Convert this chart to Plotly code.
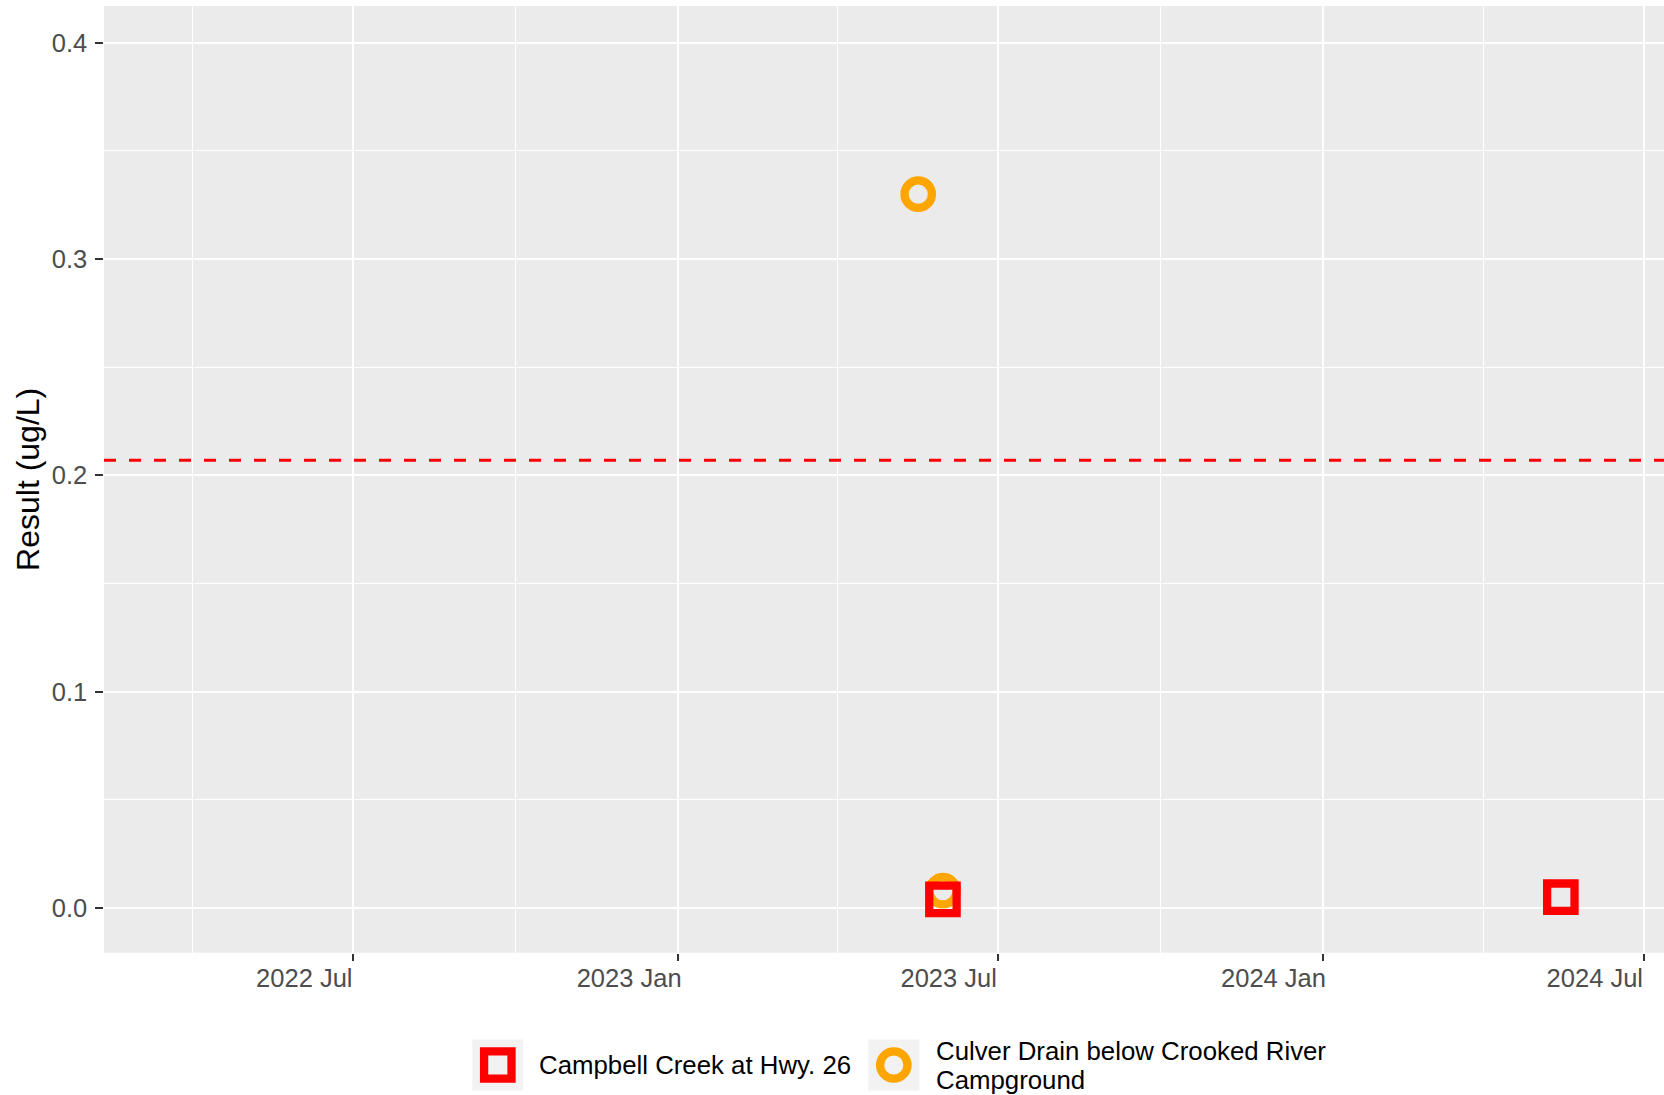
import plotly.graph_objects as go

# ---- data ----
campbell_name = "Campbell Creek at Hwy. 26"
campbell_dates = ["2023-05-31", "2024-05-15"]
campbell_vals = [0.004, 0.005]

culver_name = "Culver Drain below Crooked River Campground"
culver_dates = ["2023-05-17", "2023-05-31"]
culver_vals = [0.33, 0.008]

criterion = 0.207

x_tickvals = ["2022-07-01", "2023-01-01", "2023-07-01", "2024-01-01", "2024-07-01"]
x_ticktext = ["2022 Jul", "2023 Jan", "2023 Jul", "2024 Jan", "2024 Jul"]
x_minorvals = ["2022-04-01", "2022-10-01", "2023-04-01", "2023-10-01", "2024-04-01"]
y_tickvals = [0.0, 0.1, 0.2, 0.3, 0.4]
y_ticktext = ["0.0", "0.1", "0.2", "0.3", "0.4"]
y_minorvals = [0.05, 0.15, 0.25, 0.35]

RED = "#FF0000"
ORANGE = "#FFA500"
FONT = "Liberation Sans, Arial, sans-serif"

W, H = 1664, 1095
ML, MR, MT, MB = 104, 0, 6, 0
PH = H - MT - MB
panel_bottom_px = 952.7
ydom0 = (H - panel_bottom_px) / PH
MS, MLW = 27.4, 8.3

fig = go.Figure()

# panel background
fig.add_shape(type="rect", xref="x domain", yref="y domain", x0=0, x1=1, y0=0, y1=1,
              fillcolor="#EBEBEB", line=dict(width=0), layer="below")

fig.add_trace(go.Scatter(
    x=culver_dates, y=culver_vals, mode="markers", name=culver_name,
    marker=dict(symbol="circle-open", size=MS, color=ORANGE,
                line=dict(color=ORANGE, width=MLW)),
    showlegend=False, xaxis="x", yaxis="y"))
fig.add_trace(go.Scatter(
    x=campbell_dates, y=campbell_vals, mode="markers", name=campbell_name,
    marker=dict(symbol="square-open", size=MS, color=RED,
                line=dict(color=RED, width=MLW)),
    showlegend=False, xaxis="x", yaxis="y"))

# criterion line
fig.add_shape(type="line", xref="x domain", yref="y", x0=0, x1=1,
              y0=criterion, y1=criterion,
              line=dict(color=RED, width=2.9, dash="12px,13px"))

# ---- manual legend (overlay axes in window pixel coordinates) ----
legend_keys = [
    dict(cx=497.8, cy=1065, symbol="square-open", color=RED),
    dict(cx=893.8, cy=1065, symbol="circle-open", color=ORANGE),
]
for k in legend_keys:
    fig.add_shape(type="rect", xref="x2", yref="y2",
                  x0=k["cx"] - 25.5, x1=k["cx"] + 25.5,
                  y0=k["cy"] - 25.5, y1=k["cy"] + 25.5,
                  fillcolor="#F2F2F2", line=dict(width=0), layer="below")
    fig.add_trace(go.Scatter(
        x=[k["cx"]], y=[k["cy"]], mode="markers", xaxis="x2", yaxis="y2",
        marker=dict(symbol=k["symbol"], size=MS, color=k["color"],
                    line=dict(color=k["color"], width=MLW)),
        showlegend=False, hoverinfo="skip"))

legend_texts = [
    dict(x=536.5, y=1065, text=campbell_name),
    dict(x=933.5, y=1051, text="Culver Drain below Crooked River"),
    dict(x=933.5, y=1080, text="Campground"),
]
for t in legend_texts:
    fig.add_annotation(x=t["x"], y=t["y"], xref="x2", yref="y2", text=t["text"],
                       showarrow=False, xanchor="left", yanchor="middle",
                       font=dict(family=FONT, size=25.8, color="black"))

tickfont = dict(family=FONT, size=25.5, color="#4D4D4D")
# value scale: 0.0 at window y 908, 0.4 at window y 42.7
px_per_unit = (908 - 42.7) / 0.4
y_hi = 0.4 + (42.7 - MT) / px_per_unit
y_lo = -((panel_bottom_px - 908) / px_per_unit)

fig.update_layout(
    width=W, height=H,
    margin=dict(l=ML, r=MR, t=MT, b=MB, pad=0, autoexpand=False),
    paper_bgcolor="white", plot_bgcolor="rgba(0,0,0,0)",
    font=dict(family=FONT),
    showlegend=False,
    xaxis=dict(
        type="date", domain=[0, 1],
        range=["2022-02-09 19:00", "2024-07-12 10:30"],
        tickvals=x_tickvals, ticktext=x_ticktext,
        ticks="outside", ticklen=7.7, tickwidth=2.3, tickcolor="#333333",
        ticklabelshift=-49, ticklabelstandoff=-5,
        tickfont=tickfont, automargin=False,
        showgrid=True, gridcolor="white", gridwidth=2.4,
        zeroline=False, showline=False,
        minor=dict(tickvals=x_minorvals, showgrid=True, gridcolor="white",
                   gridwidth=1.2, ticks=""),
        anchor="y",
    ),
    yaxis=dict(
        domain=[ydom0, 1],
        range=[y_lo, y_hi],
        tickvals=y_tickvals, ticktext=y_ticktext,
        ticks="outside", ticklen=7.7, tickwidth=2.3, tickcolor="#333333",
        ticklabelstandoff=3,
        tickfont=tickfont, automargin=False,
        showgrid=True, gridcolor="white", gridwidth=2.4,
        zeroline=False, showline=False,
        minor=dict(tickvals=y_minorvals, showgrid=True, gridcolor="white",
                   gridwidth=1.2, ticks=""),
        title=dict(text="Result (ug/L)", font=dict(family=FONT, size=32, color="black"),
                   standoff=2),
        anchor="x",
    ),
    xaxis2=dict(domain=[0, 1], range=[ML, W - MR], visible=False,
                anchor="y2", fixedrange=True),
    yaxis2=dict(domain=[0, 0.12], range=[H, H - 0.12 * PH], visible=False,
                anchor="x2", fixedrange=True),
)

fig.write_html(
    "out.html",
    config={"displayModeBar": False},
    post_script="document.body.style.margin='0px';document.body.style.overflow='hidden';",
)
